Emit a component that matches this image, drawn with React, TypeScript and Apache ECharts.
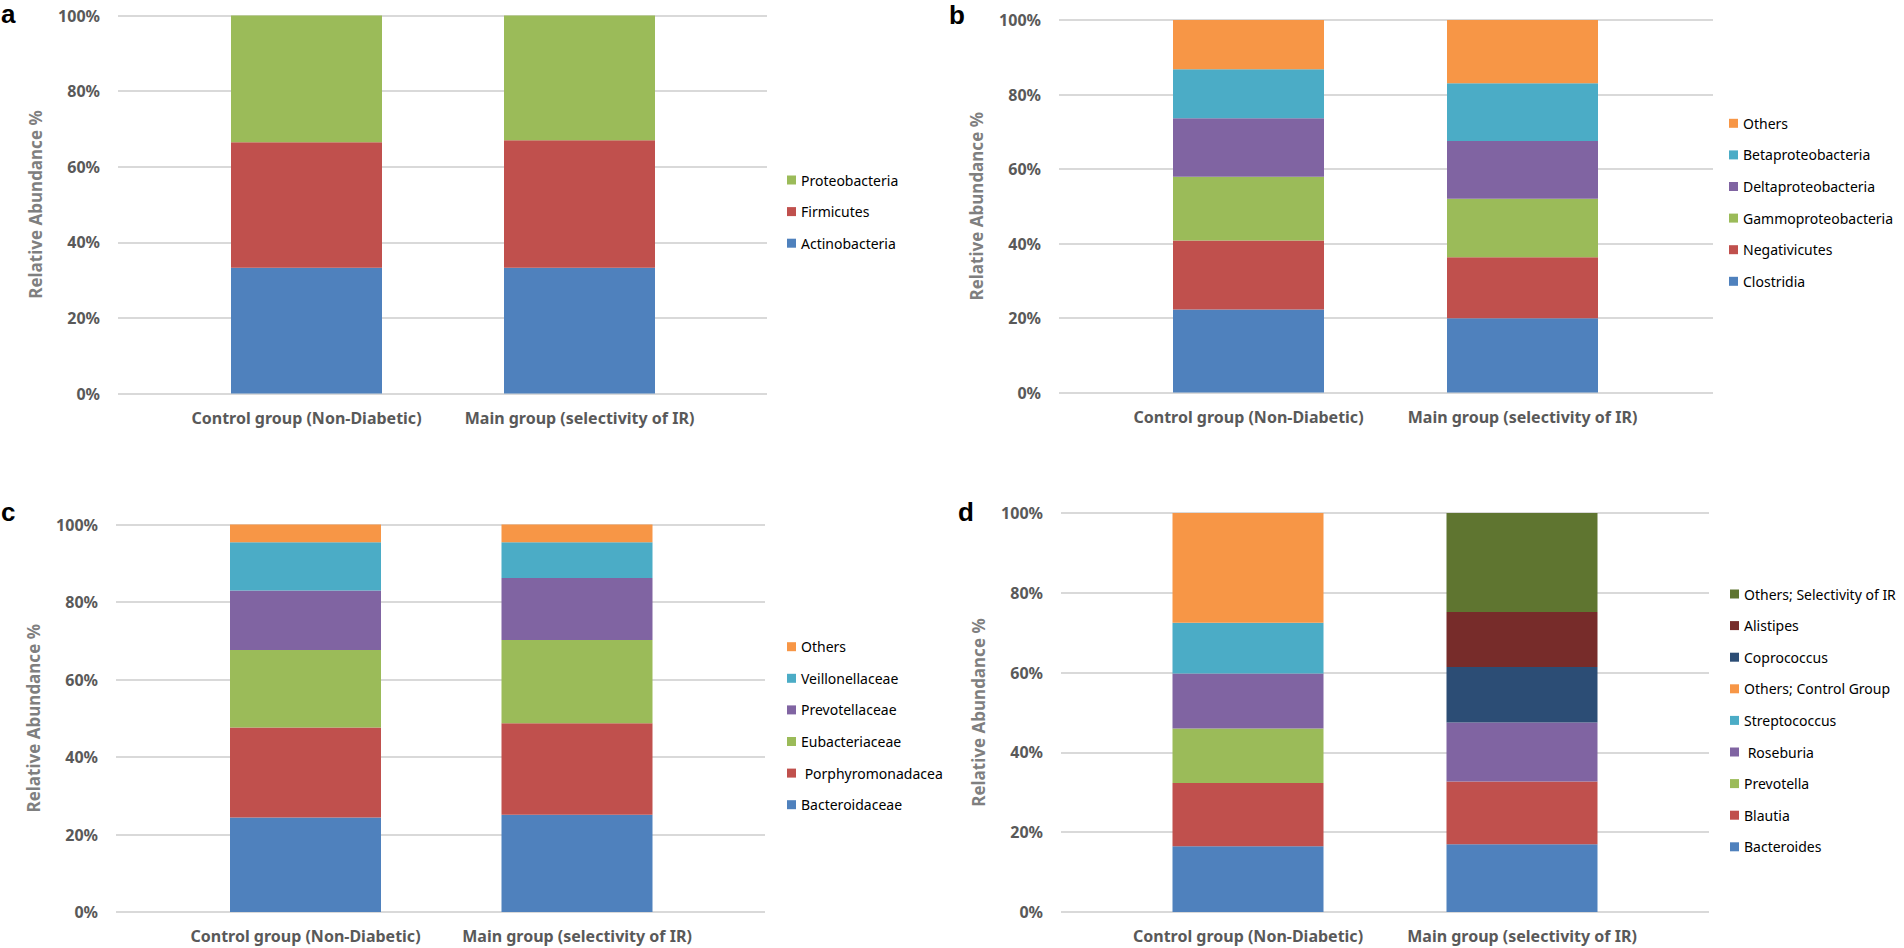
import React, { useEffect, useRef } from "react";
import * as echarts from "echarts";

// ---------- data ----------
const categories = ["Control group (Non-Diabetic)", "Main group (selectivity of IR)"];
const yTickValues = [0, 20, 40, 60, 80, 100];

// a – phylum
const phylumNames = ["Actinobacteria", "Firmicutes", "Proteobacteria"];
const phylumControl = [33.3, 33.2, 33.5];
const phylumMain = [33.3, 33.7, 33.0];

// b – class
const classNames = ["Clostridia", "Negativicutes", "Gammoproteobacteria", "Deltaproteobacteria", "Betaproteobacteria", "Others"];
const classControl = [22.3, 18.5, 17.1, 15.7, 13.2, 13.2];
const classMain = [19.9, 16.4, 15.7, 15.5, 15.5, 17.0];

// c – family
const familyNames = ["Bacteroidaceae", " Porphyromonadacea", "Eubacteriaceae", "Prevotellaceae", "Veillonellaceae", "Others"];
const familyControl = [24.4, 23.2, 20.0, 15.4, 12.4, 4.6];
const familyMain = [25.1, 23.6, 21.5, 16.0, 9.2, 4.6];

// d – genus
const genusNames = ["Bacteroides", "Blautia", "Prevotella", " Roseburia", "Streptococcus", "Others; Control Group", "Coprococcus", "Alistipes", "Others; Selectivity of IR"];
const genusControl = [16.5, 15.8, 13.7, 13.8, 12.7, 27.5, 0, 0, 0];
const genusMain = [17.0, 15.7, 0, 14.8, 0, 0, 13.9, 13.8, 24.8];

const palette = ["#4f81bd", "#c0504d", "#9bbb59", "#8064a2", "#4bacc6", "#f79646", "#2c4d75", "#772c2a", "#5f7530"];

// ---------- layout ----------
const panels = [
  { letter: "a", names: phylumNames, control: phylumControl, main: phylumMain,
    left: 118, right: 767, top: 15.5, bottom: 393.5, c0: 306.5, c1: 579.5,
    legendLeft: 787, legendTop: 172, letterX: 1, letterTop: 1 },
  { letter: "b", names: classNames, control: classControl, main: classMain,
    left: 1059, right: 1713, top: 20, bottom: 392.5, c0: 1248.5, c1: 1522.5,
    legendLeft: 1729, legendTop: 115.3, letterX: 949, letterTop: 2 },
  { letter: "c", names: familyNames, control: familyControl, main: familyMain,
    left: 116, right: 765, top: 524.5, bottom: 912, c0: 305.5, c1: 577,
    legendLeft: 787, legendTop: 638.7, letterX: 1, letterTop: 499 },
  { letter: "d", names: genusNames, control: genusControl, main: genusMain,
    left: 1061, right: 1709, top: 513, bottom: 912, c0: 1248, c1: 1522,
    legendLeft: 1730, legendTop: 586, letterX: 958, letterTop: 499 },
];

const LABEL_FONT = "'Noto Sans', sans-serif";

function buildOption() {
  const grid: any[] = [];
  const xAxis: any[] = [];
  const yAxis: any[] = [];
  const series: any[] = [];
  const legend: any[] = [];
  const graphic: any[] = [];

  panels.forEach((p, i) => {
    const W = p.c1 - p.c0;
    grid.push({ left: p.left, top: p.top, width: p.right - p.left, height: p.bottom - p.top, outerBoundsMode: "none" });
    grid.push({ left: p.c0 - W / 2, top: p.top, width: 2 * W, height: p.bottom - p.top, outerBoundsMode: "none" });

    const wi = 2 * i;
    const ni = 2 * i + 1;
    xAxis.push({ gridIndex: wi, type: "value", min: 0, max: 1, show: false });
    yAxis.push({
      gridIndex: wi, type: "value",
      min: yTickValues[0], max: yTickValues[yTickValues.length - 1], interval: yTickValues[1] - yTickValues[0],
      axisLine: { show: false }, axisTick: { show: false },
      axisLabel: { formatter: "{value}%", color: "#595959", fontWeight: "bold", fontSize: 16, fontFamily: LABEL_FONT, margin: 18 },
      splitLine: { show: true, lineStyle: { color: "#d9d9d9", width: 2 } },
      name: "Relative Abundance %", nameLocation: "middle", nameGap: 74,
      nameTextStyle: { color: "#7f7f7f", fontWeight: "bold", fontSize: 17, fontFamily: LABEL_FONT },
    });
    xAxis.push({
      gridIndex: ni, type: "category", data: categories,
      axisLine: { show: false }, axisTick: { show: false },
      axisLabel: { color: "#595959", fontWeight: "bold", fontSize: 16, fontFamily: LABEL_FONT, margin: 16, interval: 0 },
      splitLine: { show: false },
    });
    yAxis.push({ gridIndex: ni, type: "value", min: 0, max: 100, show: false, splitLine: { show: false } });

    p.names.forEach((name, k) => {
      series.push({
        type: "bar", name, stack: "stack" + p.letter,
        xAxisIndex: ni, yAxisIndex: ni,
        barWidth: 151,
        itemStyle: { color: palette[k] },
        data: [p.control[k], p.main[k]],
      });
    });

    legend.push({
      data: [...p.names].reverse(),
      orient: "vertical", left: p.legendLeft, top: p.legendTop,
      itemWidth: 9, itemHeight: 9, itemGap: 15.6, padding: 0, icon: "rect",
      selectedMode: false,
      textStyle: { fontSize: 14, fontFamily: LABEL_FONT, color: "#000", lineHeight: 16 },
    });

    graphic.push({
      type: "text", left: p.letterX, top: p.letterTop,
      style: { text: p.letter, fontSize: 26, fontWeight: "bold", fontFamily: "'Liberation Sans', Arial, sans-serif", fill: "#000" },
    });
  });

  return { animation: false, backgroundColor: "#fff", grid, xAxis, yAxis, series, legend, graphic };
}

export default function App() {
  const ref = useRef<HTMLDivElement>(null);
  useEffect(() => {
    if (!ref.current) return;
    const chart = echarts.init(ref.current, undefined, { renderer: "svg" });
    chart.setOption(buildOption() as any);
    return () => chart.dispose();
  }, []);
  return <div ref={ref} style={{ position: "fixed", left: 0, top: 0, width: 1904, height: 948, background: "#fff" }} />;
}
